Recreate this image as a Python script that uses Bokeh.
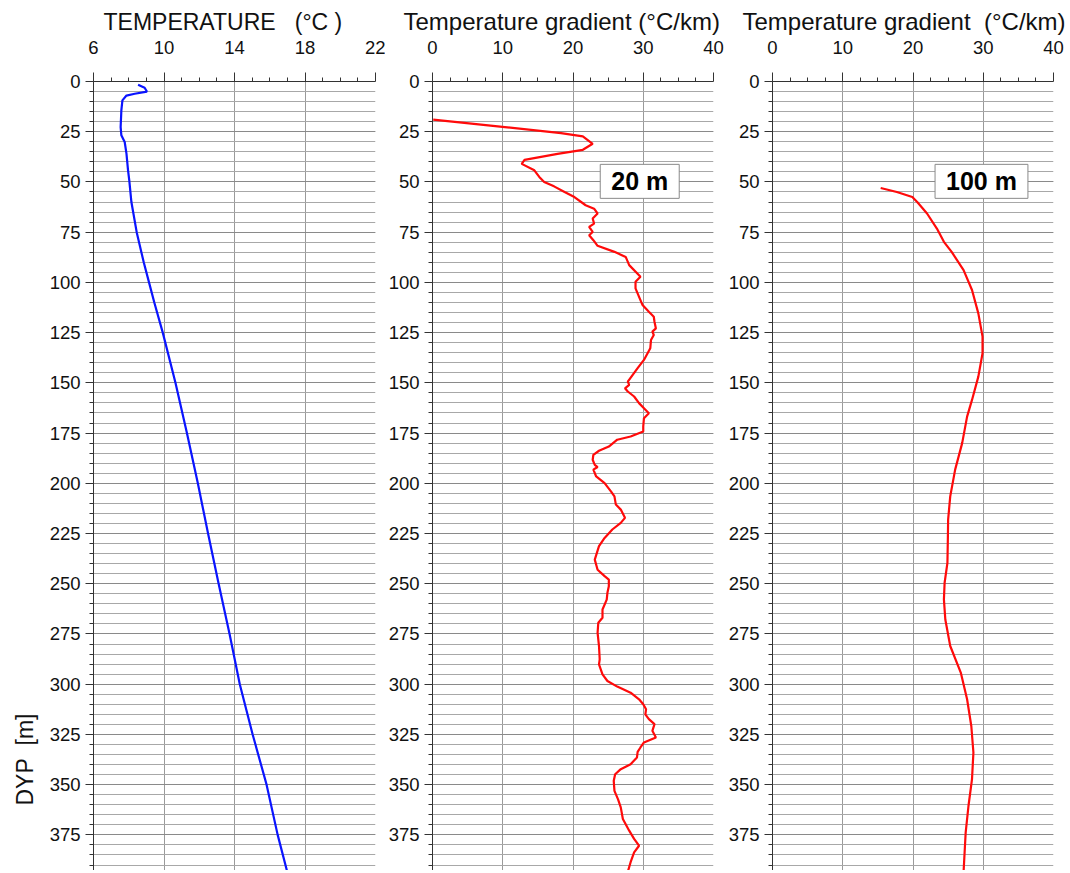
from bokeh.plotting import figure
from bokeh.models import Range1d, FixedTicker, Label, Title
from bokeh.layouts import row
from bokeh.embed import file_html
from bokeh.resources import INLINE

# ---------------- data ----------------
temp_depth = [1.6, 3.1, 5.0, 6.1, 7.0, 9.4, 14.4, 22.7, 26.8, 30.1, 35.9, 44.2, 49.2,
              60, 75, 90, 100, 110, 125, 150, 175, 200, 225, 250, 275, 300,
              325, 350, 375, 393]
temp_vals = [8.53, 8.9, 9.03, 8.34, 7.87, 7.64, 7.58, 7.54, 7.58, 7.77, 7.87, 7.96, 8.03,
             8.15, 8.45, 8.85, 9.15, 9.45, 9.93, 10.65, 11.3, 11.92, 12.5, 13.1, 13.72, 14.3,
             15.03, 15.82, 16.45, 16.98]

g20_depth = [19.0, 22.7, 25.7, 27.3, 31.0, 34.0, 36.0, 39.0, 41.0, 44.2, 47.5, 50.0, 52.2,
             55.0, 57.5, 61.6, 63.3, 65.7, 68.2, 70.7, 72.4, 74.9, 76.5, 79.0, 81.8, 84.8,
             87.3, 91.4, 96.4, 97.2, 99.7, 103.0, 108.8, 111.3, 114.6, 117.1, 119.6, 122.9,
             124.5, 126.2, 128.7, 132.8, 138.6, 142.7, 146.0, 149.4, 151.0, 152.7, 154.3,
             156.8, 160.1, 162.6, 165.1, 167.6, 171.7, 174.2, 176.7, 178.3, 181.7, 183.8,
             185.8, 188.3, 190.8, 191.9, 193.2, 196.6, 199.9, 204.0, 206.5, 210.6, 213.1,
             217.2, 219.7, 223.0, 227.2, 231.3, 238.0, 243.0, 246.2, 247.9, 251.2, 254.5,
             257.9, 262.8, 266.9, 269.4, 274.4, 281.0, 287.6, 290.1, 295.1, 298.4, 301.2,
             304.2, 307.5, 310.0, 312.5, 315.0, 317.4, 319.9, 323.2, 326.5, 329.0, 331.5,
             333.7, 336.5, 339.8, 342.3, 344.8, 348.1, 353.1, 357.2, 361.3, 367.1, 372.9,
             377.0, 380.4, 383.7, 388.6, 393.4]
g20_vals = [0.1, 10.3, 18.3, 21.4, 22.8, 21.4, 17.8, 13.1, 12.7, 14.5, 15.2, 15.9, 17.3,
            18.8, 20.2, 21.8, 23.0, 23.5, 22.8, 23.0, 22.3, 22.8, 22.3, 22.9, 23.5, 25.9,
            27.5, 28.0, 29.4, 29.6, 28.9, 28.9, 29.6, 29.9, 30.8, 31.5, 31.6, 31.8,
            31.3, 31.5, 31.1, 31.0, 30.1, 29.2, 28.5, 27.8, 28.0, 27.4, 27.8,
            28.7, 29.4, 30.1, 30.8, 30.1, 30.0, 30.0, 28.2, 26.3, 25.1, 23.7,
            22.9, 22.8, 23.1, 23.5, 22.9, 23.3, 24.5, 25.4, 25.9, 26.1, 26.8,
            27.4, 26.8, 25.6, 24.5, 23.7, 23.1, 23.5, 24.5, 25.1, 25.1, 24.9,
            24.8, 24.2, 24.2, 23.6, 23.5, 23.7, 23.8, 23.7, 24.2, 24.9, 26.3,
            28.2, 29.4, 30.0, 30.4, 30.3, 30.8, 31.6, 31.3, 31.8, 30.1, 29.6,
            29.2, 29.1, 28.2, 26.8, 26.0, 25.8, 25.9, 26.4, 26.8, 27.1, 28.0,
            28.7, 29.4, 28.7, 28.2, 27.8]

g100_depth = [53.0, 55.0, 57.5, 60.0, 65.7, 73.2, 79.8, 84.8, 93.9, 103.8, 115.4, 127.0,
              135.3, 146.9, 158.5, 166.8, 180.0, 193.2, 206.5, 218.1, 228.0, 239.6, 249.5,
              257.8, 267.8, 281.0, 294.2, 307.5, 320.8, 334.0, 347.2, 360.5, 373.7, 393.4]
g100_vals = [15.4, 17.7, 19.9, 20.6, 22.0, 23.4, 24.4, 25.5, 27.2, 28.4, 29.3, 29.9,
             29.9, 29.3, 28.4, 27.7, 27.0, 26.0, 25.3, 25.0, 24.96, 24.9, 24.5,
             24.4, 24.6, 25.3, 26.8, 27.7, 28.3, 28.6, 28.4, 27.9, 27.5, 27.2]

depth_ticks = list(range(0, 400, 25))
depth_minor = list(range(0, 400, 5))
temp_ticks = [6, 10, 14, 18, 22]
temp_minor = [7, 8, 9, 11, 12, 13, 15, 16, 17, 19, 20, 21]
grad_ticks = [0, 10, 20, 30, 40]
grad_minor = [2.5, 5, 7.5, 12.5, 15, 17.5, 22.5, 25, 27.5, 32.5, 35, 37.5]

NB = "\u00a0"
titles = ["TEMPERATURE" + NB * 3 + "(\u00b0C" + NB + ")",
          "Temperature gradient" + NB + "(\u00b0C/km)",
          "Temperature gradient" + NB * 2 + "(\u00b0C/km)"]
depth_label = "DYP" + NB * 2 + "[m]"
box_labels = ["20 m", "100 m"]

FONT = "Liberation Sans"
TXT = "#111111"
AX = "#333333"
H = 870
TOP = 81
DEPTH_MAX = (H - TOP) / 2.009


def make(xr, xt, xminor, title, width, bl, br, fsize, toff):
    p = figure(width=width, height=H, x_range=Range1d(*xr), y_range=Range1d(DEPTH_MAX, 0),
               output_backend="svg", toolbar_location=None, x_axis_location="above",
               min_border_left=bl, min_border_right=br, min_border_top=TOP,
               min_border_bottom=0)
    p.outline_line_color = None
    p.background_fill_color = "white"
    p.border_fill_color = "white"
    xtk = FixedTicker(ticks=xt, minor_ticks=xminor)
    ytk = FixedTicker(ticks=depth_ticks, minor_ticks=depth_minor)
    p.xaxis.ticker = xtk
    p.xgrid.ticker = xtk
    p.yaxis.ticker = ytk
    p.ygrid.ticker = ytk
    for ax in (p.xaxis[0], p.yaxis[0]):
        ax.major_label_text_font = FONT
        ax.major_label_text_font_size = "18.5px"
        ax.major_label_text_color = TXT
        ax.axis_line_color = AX
        ax.major_tick_line_color = AX
        ax.minor_tick_line_color = AX
        ax.major_tick_in = 0
        ax.minor_tick_in = 0
        ax.major_tick_out = 8
        ax.minor_tick_out = 4
    p.xaxis.major_tick_out = 9
    p.xaxis.major_label_standoff = 19
    p.yaxis.major_label_standoff = 5
    p.title.text = title
    p.title.align = "left"
    p.title.offset = toff
    p.title.standoff = 6
    p.title.text_font = FONT
    p.title.text_font_size = fsize
    p.title.text_font_style = "normal"
    p.title.text_color = TXT
    p.xgrid.grid_line_color = "#9a9a9a"
    p.ygrid.grid_line_color = "#8a8a8a"
    p.ygrid.minor_grid_line_color = "#a8a8a8"
    return p


p1 = make((6, 22), temp_ticks, temp_minor, titles[0], 385, 92, 10, "23px", 10)
p2 = make((0, 40), grad_ticks, grad_minor, titles[1], 340, 46, 12, "24px", -29)
p3 = make((0, 40), grad_ticks, grad_minor, titles[2], 342, 47, 14, "24px", -30)

p1.line(temp_vals, temp_depth, line_color="#0a14ff", line_width=2.2)
p2.line(g20_vals, g20_depth, line_color="#ff0a0a", line_width=2.2)
p3.line(g100_vals, g100_depth, line_color="#ff0a0a", line_width=2.2)

p1.add_layout(Title(text=depth_label, align="left", offset=65, text_font=FONT,
                    text_font_size="23px", text_font_style="normal", text_color=TXT,
                    standoff=18), "left")

for p, txt, xc in ((p2, box_labels[0], 29.5), (p3, box_labels[1], 29.75)):
    p.add_layout(Label(x=xc, y=49.7, text=txt, text_font=FONT, text_font_size="25px",
                       text_font_style="bold", text_color="#000000", text_align="center",
                       text_baseline="middle", background_fill_color="white",
                       border_line_color="#8a8a8a", border_line_width=1, padding=(11, 3)))

layout = row(p1, p2, p3)
open("out.html", "w").write(file_html(layout, INLINE))
